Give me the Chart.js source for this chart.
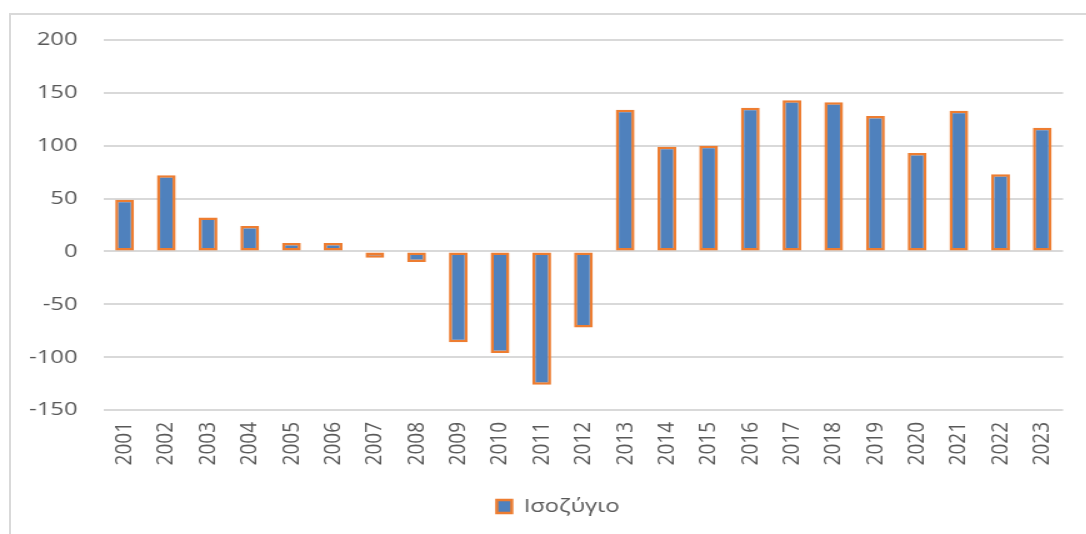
<!DOCTYPE html>
<html>
<head>
<meta charset="utf-8">
<script src="https://cdn.jsdelivr.net/npm/chart.js@4"></script>
<style>
    body { margin: 0; background: #fff; }
    #page { position: relative; width: 1086px; height: 534px; overflow: hidden; }
    #frame { position: absolute; left: 9px; top: 13px; right: -10px; bottom: -10px;
             border-top: 2px solid #d9d9d9; border-left: 2px solid #d9d9d9; }
    /* the original picture is stretched sideways, so stretch the canvas too */
    #stretch { position: absolute; left: 0; top: 0; transform: scaleX(1.25); transform-origin: 0 0; }
    #chart { display: block; }
</style>
</head>
<body>
<div id="page">
    <div id="frame"></div>
    <div id="stretch"><canvas id="chart" width="869" height="534"></canvas></div>
</div>
<script>
// Data
const years = ['2001', '2002', '2003', '2004', '2005', '2006', '2007', '2008', '2009', '2010', '2011', '2012',
               '2013', '2014', '2015', '2016', '2017', '2018', '2019', '2020', '2021', '2022', '2023'];
const balance = [49, 72, 32, 24, 8, 8, -6, -10, -86, -96, -126, -72,
                 134, 99, 100, 136, 143, 141, 128, 93, 133, 73, 117];
const seriesName = 'Ισοζύγιο';
const yMin = -150;
const yMax = 200;
const yStep = 50;

const textColor = '#595959';
const fontFamily = '"Open Sans", "Noto Sans", sans-serif';

// Legend sits a bit right of centre in the original
const legendShift = {
    id: 'legendShift',
    afterLayout(chart) {
        if (chart.legend) {
            chart.legend.left += 10;
            chart.legend.right += 10;
        }
    }
};

const ctx = document.getElementById('chart').getContext('2d');
new Chart(ctx, {
    type: 'bar',
    data: {
        labels: years,
        datasets: [{
            label: seriesName,
            data: balance,
            backgroundColor: '#4f81bd',
            borderColor: '#ed7d31',
            borderWidth: 2.5,
            borderSkipped: false,
            categoryPercentage: 1,
            barPercentage: 0.45
        }]
    },
    options: {
        responsive: false,
        animation: false,
        devicePixelRatio: 1,
        layout: {
            padding: { top: 40, left: 22, right: 18, bottom: 8 }
        },
        plugins: {
            tooltip: { enabled: false },
            legend: {
                position: 'bottom',
                labels: {
                    color: textColor,
                    font: { family: fontFamily, size: 19 },
                    boxWidth: 12,
                    boxHeight: 13,
                    padding: 12
                }
            }
        },
        scales: {
            x: {
                grid: { display: false, drawTicks: false },
                border: { display: false },
                ticks: {
                    color: textColor,
                    font: { family: fontFamily, size: 19 },
                    minRotation: 90,
                    maxRotation: 90,
                    padding: 12,
                    autoSkip: false
                },
                afterFit: function(scale) { scale.height = 75; }
            },
            y: {
                min: yMin,
                max: yMax,
                grid: { color: '#d9d9d9', lineWidth: 2, drawTicks: false },
                border: { display: false },
                ticks: {
                    stepSize: yStep,
                    color: textColor,
                    font: { family: fontFamily, size: 19 },
                    padding: 21
                },
                afterFit: function(scale) { scale.width = 61; }
            }
        }
    },
    plugins: [legendShift]
});
</script>
</body>
</html>
